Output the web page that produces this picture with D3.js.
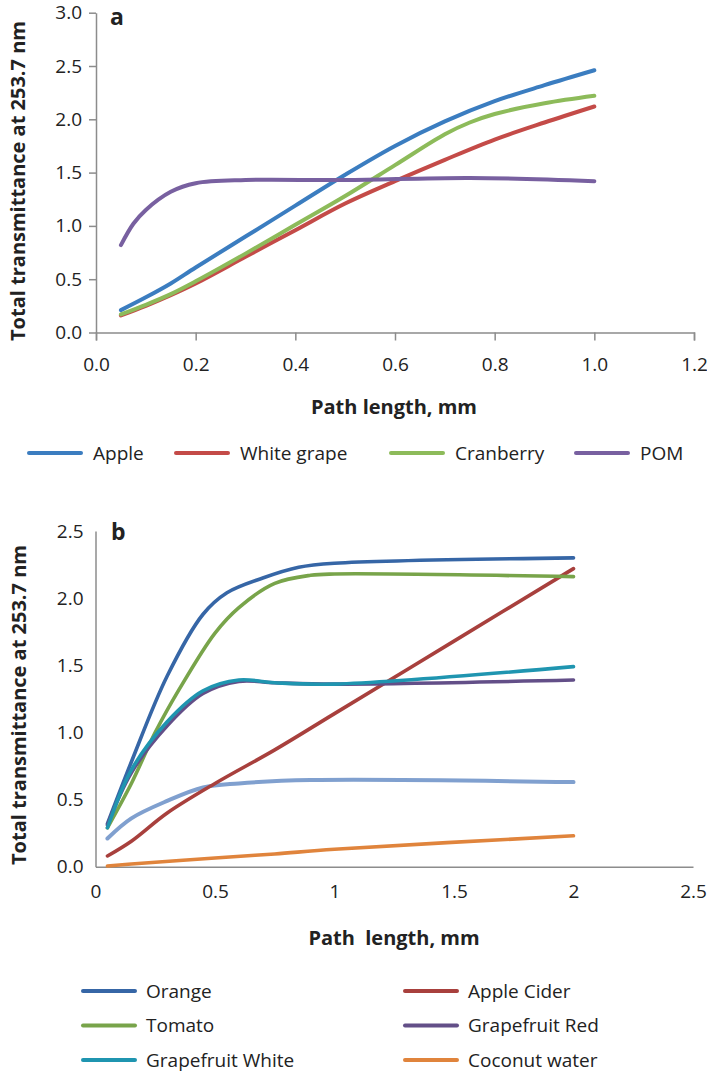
<!DOCTYPE html>
<html>
<head>
<meta charset="utf-8">
<script src="https://cdnjs.cloudflare.com/ajax/libs/d3/7.8.5/d3.min.js"></script>
<style>
  body { margin: 0; background: #fff; }
  text { font-family: "Open Sans", "Noto Sans", sans-serif; fill: #222; }
  .axis path, .axis line { stroke: #8c8c8c; stroke-width: 1.5; }
  .axis text { font-size: 19px; }
  .title { font-size: 20px; font-weight: bold; }
  .panel { font-size: 23px; font-weight: bold; }
  .legend text { font-size: 19px; }
</style>
</head>
<body>
<div id="chart-area"></div>
<script>

// Panel a: fruit juices, path length 0 - 1 mm
var seriesA = ["Apple", "White grape", "Cranberry", "POM"];
var colorsA = ["#3b7dc0", "#c44b48", "#8dbb5a", "#7860a0"];

var appleX = [0.05, 0.1, 0.15, 0.2, 0.3, 0.4, 0.5, 0.6, 0.7, 0.8, 0.9, 1.0];
var appleY = [0.21, 0.33, 0.46, 0.61, 0.90, 1.19, 1.48, 1.75, 1.98, 2.17, 2.32, 2.46];

var whiteGrapeX = [0.05, 0.1, 0.15, 0.2, 0.3, 0.4, 0.5, 0.6, 0.7, 0.8, 0.9, 1.0];
var whiteGrapeY = [0.16, 0.25, 0.35, 0.46, 0.71, 0.96, 1.21, 1.42, 1.62, 1.81, 1.97, 2.12];

var cranberryX = [0.05, 0.1, 0.15, 0.2, 0.3, 0.4, 0.5, 0.6, 0.7, 0.75, 0.8, 0.9, 1.0];
var cranberryY = [0.17, 0.26, 0.36, 0.48, 0.74, 1.01, 1.28, 1.57, 1.86, 1.97, 2.05, 2.15, 2.22];

var pomX = [0.05, 0.075, 0.1, 0.15, 0.2, 0.3, 0.5, 0.75, 1.0];
var pomY = [0.82, 1.02, 1.15, 1.32, 1.40, 1.43, 1.43, 1.45, 1.42];

var ticksAx = [0, 0.2, 0.4, 0.6, 0.8, 1.0, 1.2];
var ticksAy = [0, 0.5, 1.0, 1.5, 2.0, 2.5, 3.0];

// Panel b: path length 0 - 2 mm
var seriesB = ["Orange", "Apple Cider", "Tomato", "Grapefruit Red", "Grapefruit White", "Coconut water"];
var colorsB = ["#3666a6", "#a8403d", "#78a44a", "#634f88", "#1f95b0", "#e0843c"];

// light blue curve has no legend entry
var unlabeledX = [0.05, 0.15, 0.3, 0.45, 0.6, 0.9, 2.0];
var unlabeledY = [0.21, 0.36, 0.49, 0.59, 0.62, 0.645, 0.63];
var unlabeledColor = "#80a0cf";

var orangeX = [0.05, 0.15, 0.3, 0.45, 0.55, 0.7, 0.85, 1.0, 2.0];
var orangeY = [0.32, 0.78, 1.42, 1.88, 2.04, 2.15, 2.23, 2.26, 2.30];

var ciderX = [0.05, 0.15, 0.3, 0.5, 0.75, 1.0, 1.5, 2.0];
var ciderY = [0.08, 0.19, 0.40, 0.62, 0.87, 1.14, 1.68, 2.22];

var tomatoX = [0.05, 0.15, 0.25, 0.35, 0.5, 0.6, 0.75, 0.9, 1.0, 2.0];
var tomatoY = [0.29, 0.62, 1.00, 1.32, 1.74, 1.93, 2.11, 2.17, 2.18, 2.16];

var gfRedX = [0.05, 0.15, 0.3, 0.45, 0.6, 0.75, 1.0, 2.0];
var gfRedY = [0.31, 0.70, 1.05, 1.29, 1.38, 1.37, 1.36, 1.39];

var gfWhiteX = [0.05, 0.15, 0.3, 0.45, 0.6, 0.75, 1.0, 2.0];
var gfWhiteY = [0.29, 0.72, 1.08, 1.31, 1.39, 1.37, 1.36, 1.49];

var coconutX = [0.05, 0.15, 0.5, 0.75, 1.0, 2.0];
var coconutY = [0.005, 0.02, 0.065, 0.095, 0.13, 0.23];

var ticksBx = [0, 0.5, 1, 1.5, 2, 2.5];
var ticksBy = [0, 0.5, 1.0, 1.5, 2.0, 2.5];


var width = 707,
    height = 1074;

var svg = d3.select("#chart-area").append("svg")
    .attr("width", width)
    .attr("height", height);

function pairs(xs, ys) {
    return xs.map(function (x, i) { return [x, ys[i]]; });
}

// ---------- panel a ----------
var xA = d3.scaleLinear().domain([0, 1.2]).range([96, 694]);
var yA = d3.scaleLinear().domain([0, 3]).range([332.5, 12.7]);

var xAxisA = d3.axisBottom(xA)
    .tickValues(ticksAx)
    .tickSizeInner(8)
    .tickSizeOuter(8)
    .tickFormat(d3.format(".1f"));

svg.append("g")
    .attr("class", "axis x-axis")
    .attr("transform", "translate(0," + yA(0) + ")")
    .call(xAxisA)
    .selectAll("text").attr("y", 25);

var yAxisA = d3.axisLeft(yA)
    .tickValues(ticksAy)
    .tickSizeInner(7)
    .tickSizeOuter(0)
    .tickPadding(7)
    .tickFormat(d3.format(".1f"));

svg.append("g")
    .attr("class", "axis y-axis")
    .attr("transform", "translate(" + xA(0) + ",0)")
    .call(yAxisA);

var lineA = d3.line()
    .x(function (d) { return xA(d[0]); })
    .y(function (d) { return yA(d[1]); })
    .curve(d3.curveCatmullRom.alpha(0.5));

var dataA = [pairs(appleX, appleY), pairs(whiteGrapeX, whiteGrapeY),
             pairs(cranberryX, cranberryY), pairs(pomX, pomY)];

svg.append("g").selectAll("path")
    .data(dataA)
    .enter()
    .append("path")
    .attr("d", lineA)
    .attr("fill", "none")
    .attr("stroke", function (d, i) { return colorsA[i]; })
    .attr("stroke-width", 4)
    .attr("stroke-linecap", "round");

svg.append("text")
    .attr("class", "panel")
    .attr("x", 110)
    .attr("y", 25)
    .text("a");

svg.append("text")
    .attr("class", "title")
    .attr("text-anchor", "middle")
    .attr("transform", "translate(25,181) rotate(-90)")
    .text("Total transmittance at 253.7 nm");

svg.append("text")
    .attr("class", "title")
    .attr("text-anchor", "middle")
    .attr("x", 394)
    .attr("y", 414)
    .text("Path length, mm");

var legendAx = [29, 176, 391, 576];
var legA = svg.append("g").attr("class", "legend")
    .selectAll("g")
    .data(seriesA)
    .enter()
    .append("g")
    .attr("transform", function (d, i) { return "translate(" + legendAx[i] + ",453)"; });

legA.append("line")
    .attr("x1", 0).attr("x2", 52)
    .attr("stroke", function (d, i) { return colorsA[i]; })
    .attr("stroke-width", 4)
    .attr("stroke-linecap", "round");

legA.append("text")
    .attr("x", 64)
    .attr("dy", "0.35em")
    .text(function (d) { return d; });

// ---------- panel b ----------
var xB = d3.scaleLinear().domain([0, 2.5]).range([95.5, 693]);
var yB = d3.scaleLinear().domain([0, 2.5]).range([866.7, 531]);

var xAxisB = d3.axisBottom(xB)
    .tickValues(ticksBx)
    .tickSize(0)
    .tickFormat(d3.format(""));

svg.append("g")
    .attr("class", "axis x-axis")
    .attr("transform", "translate(0," + yB(0) + ")")
    .call(xAxisB)
    .selectAll("text").attr("y", 18);

var yAxisB = d3.axisLeft(yB)
    .tickValues(ticksBy)
    .tickSize(0)
    .tickPadding(12)
    .tickFormat(d3.format(".1f"));

svg.append("g")
    .attr("class", "axis y-axis")
    .attr("transform", "translate(" + xB(0) + ",0)")
    .call(yAxisB);

var lineB = d3.line()
    .x(function (d) { return xB(d[0]); })
    .y(function (d) { return yB(d[1]); })
    .curve(d3.curveCatmullRom.alpha(0.5));

var dataB = [pairs(orangeX, orangeY), pairs(ciderX, ciderY), pairs(tomatoX, tomatoY),
             pairs(gfRedX, gfRedY), pairs(gfWhiteX, gfWhiteY), pairs(coconutX, coconutY)];

svg.append("path")
    .datum(pairs(unlabeledX, unlabeledY))
    .attr("d", lineB)
    .attr("fill", "none")
    .attr("stroke", unlabeledColor)
    .attr("stroke-width", 4)
    .attr("stroke-linecap", "round");

svg.append("g").selectAll("path")
    .data(dataB)
    .enter()
    .append("path")
    .attr("d", lineB)
    .attr("fill", "none")
    .attr("stroke", function (d, i) { return colorsB[i]; })
    .attr("stroke-width", 3.6)
    .attr("stroke-linecap", "round");

svg.append("text")
    .attr("class", "panel")
    .attr("x", 111)
    .attr("y", 540)
    .text("b");

svg.append("text")
    .attr("class", "title")
    .attr("text-anchor", "middle")
    .attr("transform", "translate(26,705) rotate(-90)")
    .text("Total transmittance at 253.7 nm");

svg.append("text")
    .attr("class", "title")
    .attr("text-anchor", "middle")
    .attr("x", 394)
    .attr("y", 945)
    .attr("xml:space", "preserve")
    .style("white-space", "pre")
    .text("Path  length, mm");

var legB = svg.append("g").attr("class", "legend")
    .selectAll("g")
    .data(seriesB)
    .enter()
    .append("g")
    .attr("transform", function (d, i) {
        var col = i % 2, row = Math.floor(i / 2);
        return "translate(" + (col === 0 ? 83 : 405) + "," + (991 + row * 34.5) + ")";
    });

legB.append("line")
    .attr("x1", 0).attr("x2", 52)
    .attr("stroke", function (d, i) { return colorsB[i]; })
    .attr("stroke-width", 4)
    .attr("stroke-linecap", "round");

legB.append("text")
    .attr("x", 63)
    .attr("dy", "0.35em")
    .text(function (d) { return d; });

</script>
</body>
</html>
